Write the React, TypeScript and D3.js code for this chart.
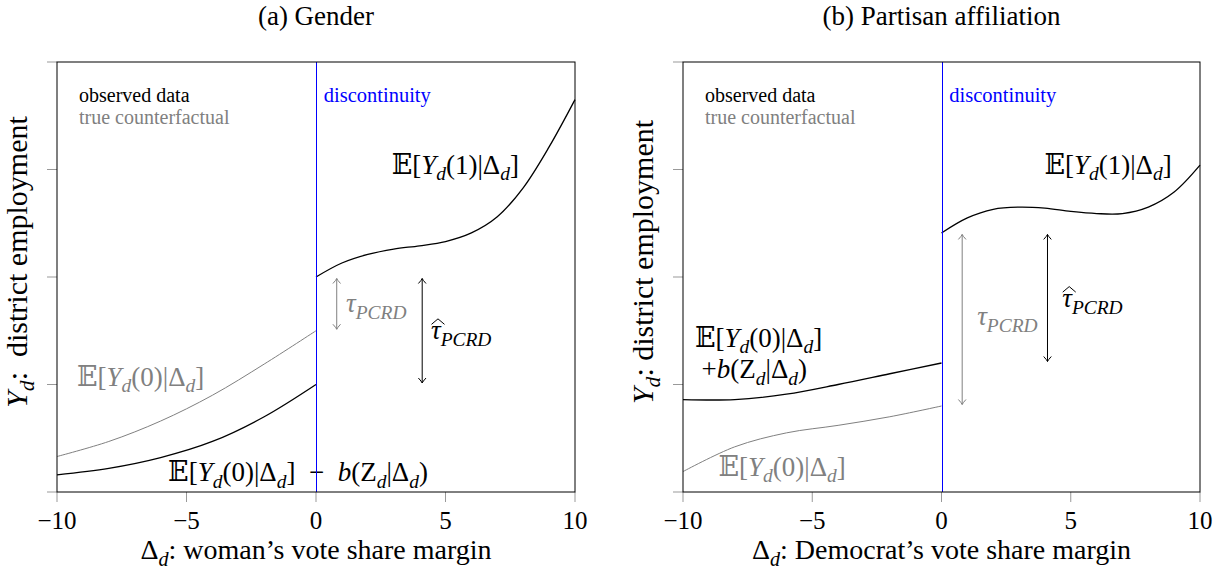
import React from "react";
import * as d3 from "d3";

// axis ticks
const xTicks = [-10, -5, 0, 5, 10];
const yTicks = [0, 1, 2, 3, 4];
const xTickLabels = ["\u221210", "\u22125", "0", "5", "10"];

const leftX = [-10, -8, -6, -4, -2, 0];
const rightX = [0, 1, 2, 3, 4, 5, 6, 7, 8, 9, 10];

// (a) gender
const genderObservedLeft = [0.16, 0.22, 0.32, 0.47, 0.7, 1.0];
const genderCounterfactual = [0.33, 0.47, 0.66, 0.9, 1.19, 1.5];
const genderObservedRight = [2.0, 2.13, 2.21, 2.26, 2.29, 2.33, 2.41, 2.56, 2.83, 3.21, 3.65];

// (b) partisan affiliation
const partisanObservedLeft = [0.86, 0.86, 0.91, 1.0, 1.1, 1.2];
const partisanCounterfactual = [0.19, 0.42, 0.55, 0.62, 0.7, 0.8];
const partisanObservedRight = [2.41, 2.55, 2.63, 2.65, 2.64, 2.61, 2.59, 2.59, 2.65, 2.79, 3.04];

const panelTitles = ["(a) Gender", "(b) Partisan affiliation"];
const xTitles = [": woman\u2019s vote share margin", ": Democrat\u2019s vote share margin"];
const yTitles = [":  district employment", ": district employment"];

const FONT = "'Liberation Serif', 'Times New Roman', Times, serif";
const BB = "'DejaVu Serif', 'DejaVu Sans', serif";
const GRAY = "#808080";
const BLUE = "#0000ff";

type Piece = { t: string; it?: boolean; sub?: boolean; bb?: boolean; nl?: { x: number; dy: number } };

const E = (arg: string): Piece[] => [
  { t: "\u{1D53C}", bb: true },
  { t: "[" },
  { t: "Y", it: true },
  { t: "d", it: true, sub: true },
  { t: `(${arg})|\u0394` },
  { t: "d", it: true, sub: true },
  { t: "]" },
];
const bZ: Piece[] = [
  { t: "b", it: true },
  { t: "(Z" },
  { t: "d", it: true, sub: true },
  { t: "|\u0394" },
  { t: "d", it: true, sub: true },
  { t: ")" },
];
const tau: Piece[] = [{ t: "\u03C4", it: true }, { t: "PCRD", it: true, sub: true }];

function MathText(props: {
  x: number;
  y: number;
  size: number;
  fill?: string;
  pieces: Piece[];
  anchor?: string;
  transform?: string;
}) {
  const { x, y, size, fill = "#000", pieces, anchor, transform } = props;
  let cur = 0;
  return (
    <text
      x={x}
      y={y}
      fontSize={size}
      fill={fill}
      textAnchor={anchor}
      transform={transform}
      fontFamily={FONT}
      style={{ whiteSpace: "pre" }}
    >
      {pieces.map((p, i) => {
        const target = p.sub ? size * 0.24 : 0;
        let dy = target - cur;
        cur = target;
        if (p.nl) dy += p.nl.dy;
        return (
          <tspan
            key={i}
            x={p.nl ? p.nl.x : undefined}
            dy={dy}
            fontStyle={p.it ? "italic" : undefined}
            fontSize={p.sub ? size * 0.72 : undefined}
            fontFamily={p.bb ? BB : undefined}
          >
            {p.t}
          </tspan>
        );
      })}
    </text>
  );
}

function Arrow({ x, y1, y2, color }: { x: number; y1: number; y2: number; color: string }) {
  const h = 5,
    w = 3.8;
  const d = `M${x},${y1}L${x},${y2}M${x - w},${y1 + h}Q${x - 0.6},${y1 + 1.5} ${x},${y1}Q${x + 0.6},${y1 + 1.5} ${x + w},${y1 + h}M${x - w},${y2 - h}Q${x - 0.6},${y2 - 1.5} ${x},${y2}Q${x + 0.6},${y2 - 1.5} ${x + w},${y2 - h}`;
  return <path d={d} fill="none" stroke={color} strokeWidth={1} />;
}

function Panel({ idx }: { idx: number }) {
  const ranges = [
    [57, 575],
    [683, 1200],
  ];
  const x = d3.scaleLinear().domain([-10, 10]).range(ranges[idx]);
  const y = d3.scaleLinear().domain([0, 4]).range([492, 62]);
  const obsL = idx === 0 ? genderObservedLeft : partisanObservedLeft;
  const cf = idx === 0 ? genderCounterfactual : partisanCounterfactual;
  const obsR = idx === 0 ? genderObservedRight : partisanObservedRight;

  const line = d3
    .line<[number, number]>()
    .x((d) => x(d[0]))
    .y((d) => y(d[1]))
    .curve(d3.curveCatmullRom.alpha(0.5));
  const zip = (xs: number[], ys: number[]) => xs.map((v, i) => [v, ys[i]] as [number, number]);

  const [x0, x1] = ranges[idx];
  const cx = (x0 + x1) / 2;
  const top = y(4),
    bottom = y(0);
  const tickLen = 10;

  const jumpTop = obsR[0];
  const tauBottom = cf[cf.length - 1];
  const hatBottom = obsL[obsL.length - 1];
  const inset = 1.5;

  // label anchors in data units
  const L =
    idx === 0
      ? {
          E1: [2.92, 2.96],
          tau: [1.16, 1.67],
          hat: [4.44, 1.42],
        }
      : {
          E1: [3.98, 2.96],
          tau: [1.38, 1.55],
          hat: [4.67, 1.72],
        };

  const hatX = x(L.hat[0]);
  const hatY = y(L.hat[1]);
  const blueX = Math.round(x(0)) + 0.5;
  const mathSize = 27;
  const legX = x(-9.15);

  return (
    <g>
      <text x={cx} y={25} fontSize={27} textAnchor="middle" fontFamily={FONT}>
        {panelTitles[idx]}
      </text>

      {/* ticks */}
      {xTicks.map((t) => (
        <line key={"xt" + t} x1={x(t)} x2={x(t)} y1={bottom} y2={bottom + tickLen} stroke="#999" strokeWidth={1} />
      ))}
      {yTicks.map((t) => (
        <line key={"yt" + t} x1={x0 - tickLen} x2={x0} y1={y(t)} y2={y(t)} stroke="#999" strokeWidth={1} />
      ))}
      {xTicks.map((t, i) => (
        <text key={"xl" + t} x={x(t)} y={529} fontSize={25} textAnchor="middle" fontFamily={FONT}>
          {xTickLabels[i]}
        </text>
      ))}

      {/* curves */}
      <path d={line(zip(leftX, cf)) || ""} fill="none" stroke={GRAY} strokeWidth={1} />
      <path d={line(zip(leftX, obsL)) || ""} fill="none" stroke="#000" strokeWidth={1.3} />
      <path d={line(zip(rightX, obsR)) || ""} fill="none" stroke="#000" strokeWidth={1.3} />

      {/* gaps */}
      <Arrow x={x(0.8)} y1={y(jumpTop) + inset} y2={y(tauBottom) - inset} color={GRAY} />
      <Arrow x={x(4.1)} y1={y(jumpTop) + inset} y2={y(hatBottom) - inset} color="#000" />

      {/* legend text */}
      <text x={legX} y={y(3.63)} fontSize={20} fontFamily={FONT}>
        observed data
      </text>
      <text x={legX} y={y(3.42)} fontSize={20} fill={GRAY} fontFamily={FONT}>
        true counterfactual
      </text>
      <text x={x(0.3)} y={y(3.63)} fontSize={20.5} fill={BLUE} fontFamily={FONT}>
        discontinuity
      </text>

      {/* curve labels */}
      <MathText x={x(L.E1[0])} y={y(L.E1[1])} size={mathSize} pieces={E("1")} />
      {idx === 0 ? (
        <>
          <MathText x={x(-9.23)} y={y(0.99)} size={mathSize} fill={GRAY} pieces={E("0")} />
          <MathText
            x={x(-5.71)}
            y={y(0.1)}
            size={mathSize}
            pieces={[...E("0"), { t: "\u2002\u2212\u2002" }, ...bZ]}
          />
        </>
      ) : (
        <>
          <MathText x={x(-9.54)} y={y(1.35)} size={mathSize} pieces={E("0")} />
          <MathText x={x(-9.28)} y={y(1.06)} size={mathSize} pieces={[{ t: "+" }, ...bZ]} />
          <MathText x={x(-8.63)} y={y(0.15)} size={mathSize} fill={GRAY} pieces={E("0")} />
        </>
      )}
      <MathText x={x(L.tau[0])} y={y(L.tau[1])} size={mathSize} fill={GRAY} pieces={tau} />
      <MathText x={hatX} y={hatY} size={mathSize} pieces={tau} />
      <path
        d={`M${hatX + 0.5},${hatY - 15}L${hatX + 7},${hatY - 20.5}L${hatX + 13.5},${hatY - 15}`}
        fill="none"
        stroke="#000"
        strokeWidth={1}
      />

      {/* discontinuity */}
      <line x1={blueX} x2={blueX} y1={top} y2={bottom} stroke={BLUE} strokeWidth={1} />

      {/* frame */}
      <rect x={x0} y={top} width={x1 - x0} height={bottom - top} fill="none" stroke="#000" strokeWidth={1} />

      {/* axis titles */}
      <MathText
        x={cx}
        y={559}
        size={28}
        anchor="middle"
        pieces={[{ t: "\u0394" }, { t: "d", it: true, sub: true }, { t: xTitles[idx] }]}
      />
      <MathText
        x={0}
        y={0}
        size={30}
        anchor="middle"
        transform={`translate(${x0 - 30},262) rotate(-90)`}
        pieces={[{ t: "Y", it: true }, { t: "d", it: true, sub: true }, { t: yTitles[idx] }]}
      />
    </g>
  );
}

export default function App() {
  return (
    <svg
      width={1231}
      height={577}
      style={{ position: "absolute", left: 0, top: 0, background: "#fff" }}
    >
      <Panel idx={0} />
      <Panel idx={1} />
    </svg>
  );
}
